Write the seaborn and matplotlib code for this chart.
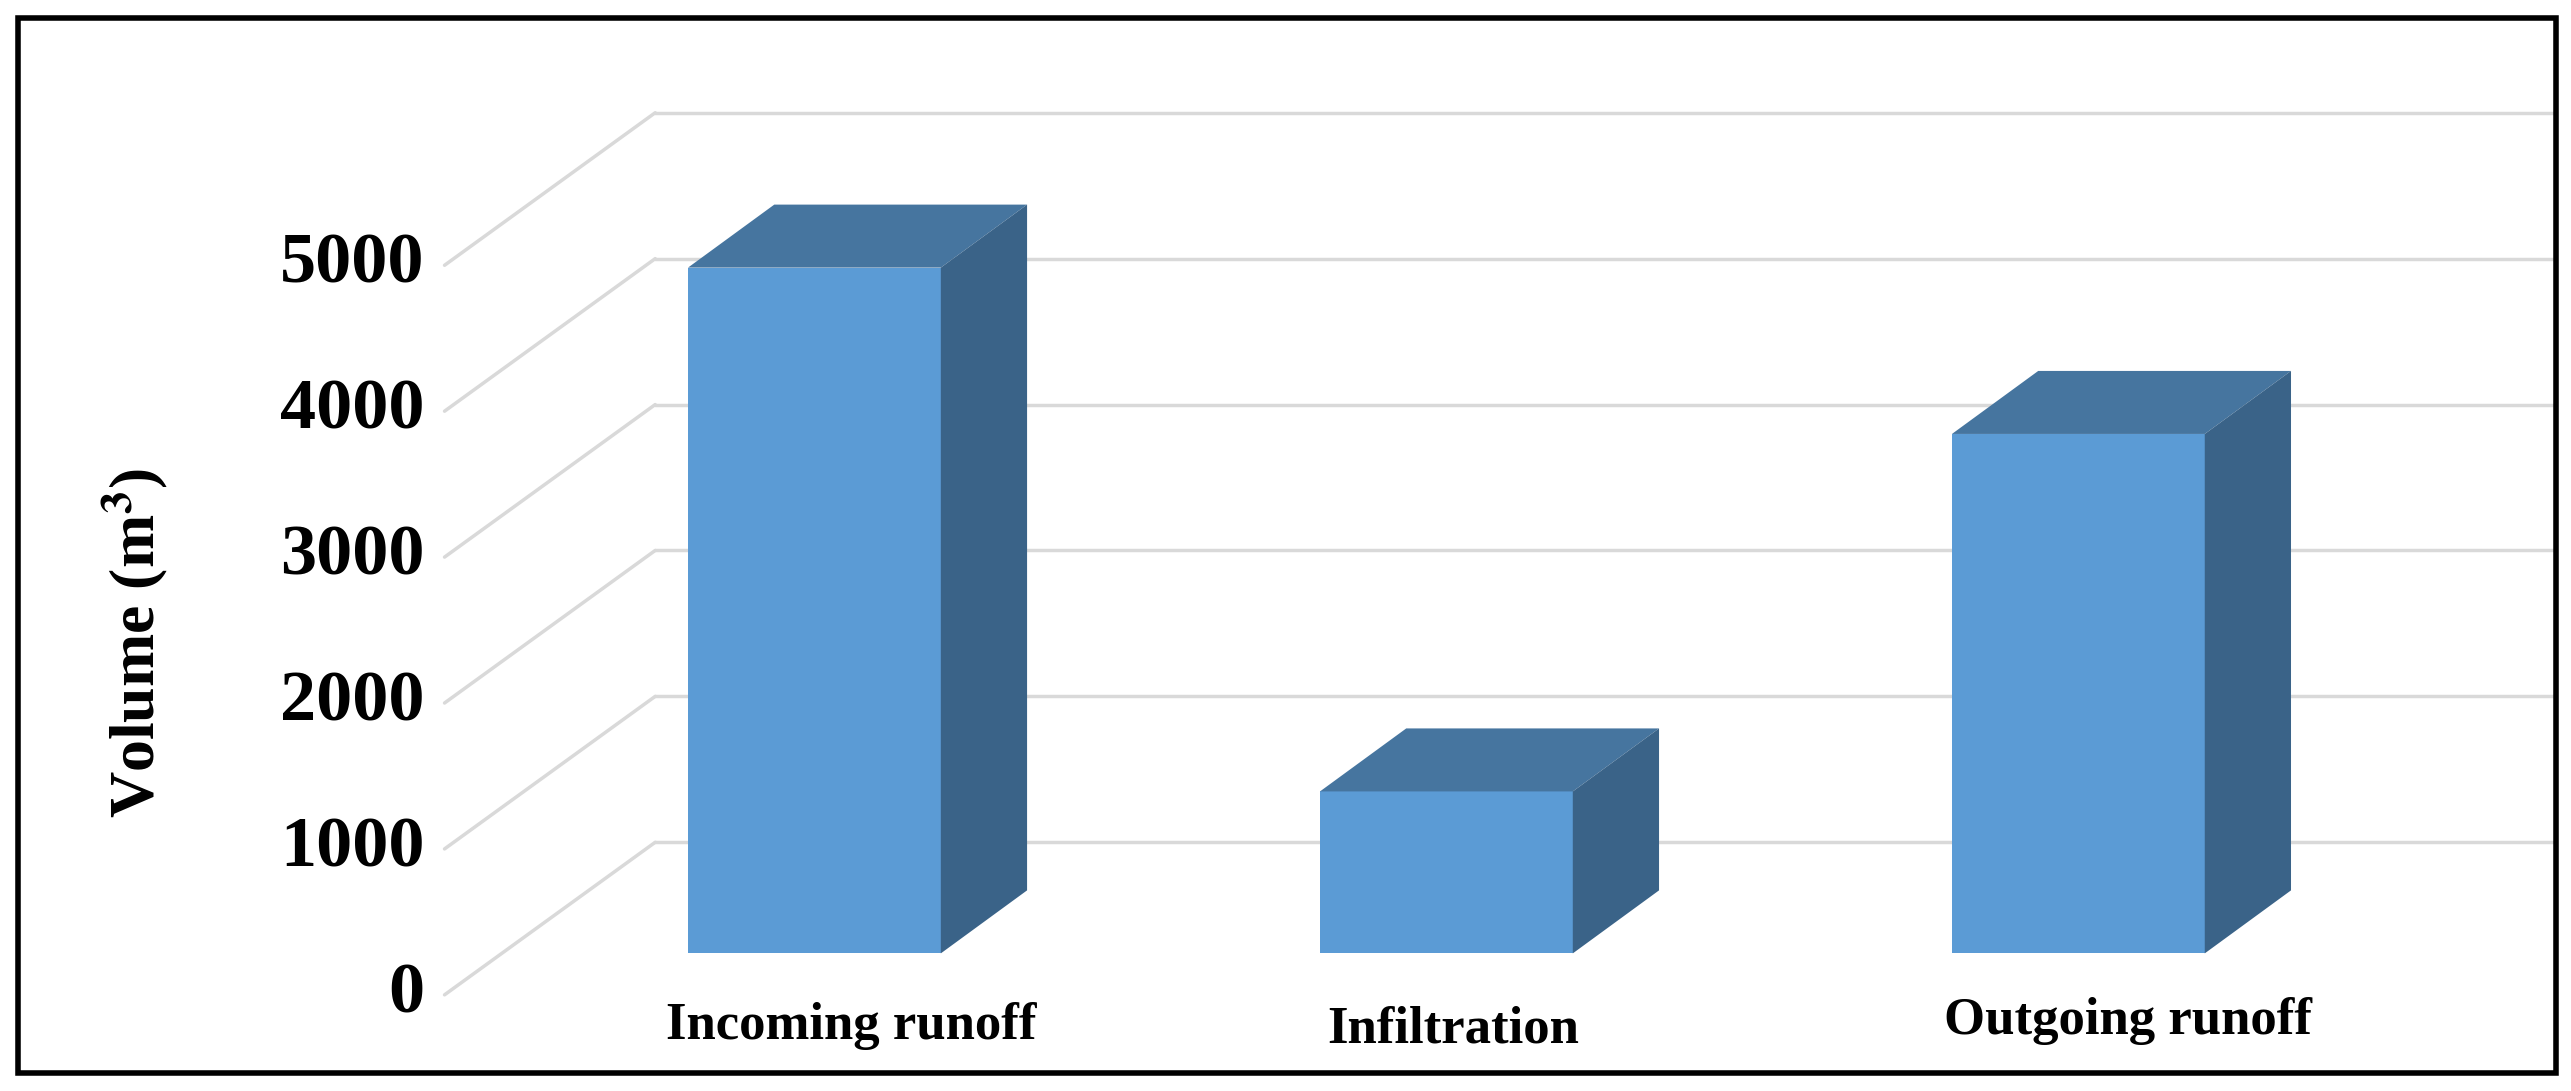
import numpy as np
import pandas as pd
import matplotlib
matplotlib.use("Agg")
import matplotlib.pyplot as plt
import seaborn as sns
from matplotlib.patches import Polygon, Rectangle

# data
categories = ["Incoming runoff", "Infiltration", "Outgoing runoff"]
volumes = [4700, 1110, 3560]
yticks = [0, 1000, 2000, 3000, 4000, 5000]

sns.set_theme(style="white")
plt.rcParams["font.family"] = ["Liberation Serif", "DejaVu Serif"]
plt.rcParams["mathtext.fontset"] = "stix"

# layout is worked out on a 1550 x 658 "display" grid and scaled to the figure
W, H = 1550.0, 658.0
fig = plt.figure(figsize=(25.71, 10.91), dpi=100)

# background axes: walls, gridlines, labels, border
bg = fig.add_axes([0, 0, 1, 1])
bg.set_xlim(0, W)
bg.set_ylim(H, 0)
bg.axis("off")

px_per_1000 = 88.0
front_x, back_x = 268, 395
front_y0, back_y0 = 600, 508
grid_col = "#d9d9d9"
for i, v in enumerate(yticks):
    yf = front_y0 - px_per_1000 * i
    yb = back_y0 - px_per_1000 * i
    bg.plot([front_x, back_x], [yf, yb], color=grid_col, lw=2.5, zorder=1)
    bg.plot([back_x, 1540], [yb, yb], color=grid_col, lw=2.5, zorder=1)
    bg.text(256, yf, str(v), ha="right", va="center", fontsize=52,
            fontweight="bold", color="black")

bg.text(82, 388, r"Volume (m$^{\mathbf{3}}$)", rotation=90, ha="center",
        va="center", fontsize=46, fontweight="bold", color="black")

bg.add_patch(Rectangle((11, 11), W - 20, H - 22, fill=False, ec="black",
                       lw=4, zorder=5))

# bar axes: x category i -> 491 + 381 * i, y value -> 575 - 0.088 * v
x_per_cat = 381.0
c0 = 491
left = c0 - 0.5 * x_per_cat
right = c0 + 2.5 * x_per_cat
base_px = 575
top_px = base_px - 0.088 * 6000
ax = fig.add_axes([left / W, 1 - base_px / H, (right - left) / W,
                   (base_px - top_px) / H])
ax.patch.set_alpha(0)

df = pd.DataFrame({"category": categories, "volume": volumes})
sns.barplot(data=df, x="category", y="volume", color="#5B9BD5",
            saturation=1, width=0.4, linewidth=0, edgecolor="none",
            ax=ax, zorder=3)
ax.set_xlim(-0.5, 2.5)
ax.set_ylim(0, 6000)
ax.axis("off")

# fake 3d depth: top and side faces
dx = 52 / x_per_cat
dy = 38 / 0.088
for bar in ax.patches[:]:
    x0 = bar.get_x()
    w = bar.get_width()
    h = bar.get_height()
    top = Polygon([(x0, h), (x0 + dx, h + dy), (x0 + w + dx, h + dy), (x0 + w, h)],
                  closed=True, fc="#46759f", ec="none", zorder=3, clip_on=False)
    side = Polygon([(x0 + w, 0), (x0 + w + dx, dy), (x0 + w + dx, h + dy), (x0 + w, h)],
                   closed=True, fc="#3a6388", ec="none", zorder=3, clip_on=False)
    ax.add_patch(top)
    ax.add_patch(side)

# category labels
label_x = [513, 876, 1283]
label_y = [619, 621, 616]
for name, lx, ly in zip(categories, label_x, label_y):
    bg.text(lx, ly, name, ha="center", va="center", fontsize=38,
            fontweight="bold", color="black")

fig.savefig("out.png", dpi=100)
